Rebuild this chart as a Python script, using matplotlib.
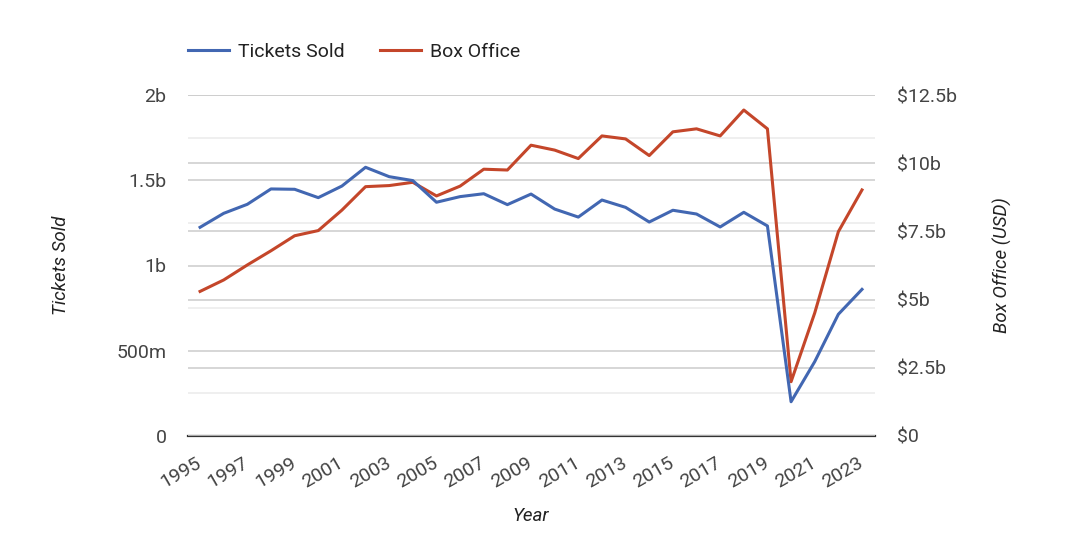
import matplotlib
matplotlib.use("Agg")
import matplotlib.pyplot as plt
import numpy as np

# Data
years = list(range(1995, 2024))
tickets_sold = [1.224, 1.306, 1.359, 1.449, 1.447, 1.398, 1.466, 1.576, 1.521, 1.498,
                1.371, 1.404, 1.421, 1.357, 1.419, 1.331, 1.284, 1.384, 1.341, 1.255,
                1.324, 1.302, 1.226, 1.312, 1.232, 0.201, 0.436, 0.714, 0.860]  # billions
box_office = [5.30, 5.72, 6.27, 6.79, 7.34, 7.53, 8.28, 9.14, 9.18, 9.30,
              8.80, 9.16, 9.78, 9.75, 10.66, 10.48, 10.17, 11.00, 10.89, 10.28,
              11.15, 11.26, 11.00, 11.95, 11.26, 1.99, 4.51, 7.49, 9.02]  # billions USD

left_ticks = [0, 0.5, 1, 1.5, 2]
left_labels = ["0", "500m", "1b", "1.5b", "2b"]
left_minor = [0.25, 0.75, 1.25, 1.75]
right_ticks = [0, 2.5, 5, 7.5, 10, 12.5]
right_labels = ["$0", "$2.5b", "$5b", "$7.5b", "$10b", "$12.5b"]
year_ticks = list(range(1995, 2024, 2))

BLUE = "#4267b2"
RED = "#c4462a"
TXT = "#444444"

plt.rcParams["font.family"] = ["Roboto", "DejaVu Sans"]

fig = plt.figure(figsize=(10.79, 5.35), dpi=100)
rect = [188 / 1079, 1 - 436 / 535, 687 / 1079, 341 / 535]

# left axis: grid only
ax = fig.add_axes(rect)
ax.set_xlim(1994.49, 2023.55)
ax.set_ylim(0, 2)
ax.set_yticks(left_ticks, left_labels)
ax.set_yticks(left_minor, minor=True)
ax.grid(axis="y", which="major", color="#cccccc", linewidth=1.1)
ax.grid(axis="y", which="minor", color="#ebebeb", linewidth=1.1)
ax.tick_params(axis="y", which="both", length=0, pad=15.5, labelsize=14, labelcolor=TXT)
ax.set_xticks(year_ticks)
ax.tick_params(axis="x", length=0, pad=18.5, labelsize=14, labelcolor=TXT)
for lab in ax.get_xticklabels():
    lab.set_rotation(30)
    lab.set_ha("right")
    lab.set_va("center")
    lab.set_rotation_mode("anchor")
for s in ["top", "left", "right"]:
    ax.spines[s].set_visible(False)
ax.spines["bottom"].set_color("#333333")
ax.spines["bottom"].set_linewidth(1.6)
ax.spines["bottom"].set_zorder(5)
ax.set_xlabel("Year", fontsize=13.5, style="italic", color="#222222")
ax.xaxis.set_label_coords(0.499, -0.208)
ax.set_ylabel("Tickets Sold", fontsize=13.5, style="italic", color="#222222", va="center")
ax.yaxis.set_label_coords(-0.185, 0.5)

# right axis: grid + box office line
ax2 = ax.twinx()
ax2.set_ylim(0, 12.5)
ax2.set_yticks(right_ticks, right_labels)
ax2.grid(axis="y", color="#cccccc", linewidth=1.1)
ax2.tick_params(axis="y", length=0, pad=15.5, labelsize=14, labelcolor=TXT)
for s in ax2.spines.values():
    s.set_visible(False)
ax2.set_ylabel("Box Office (USD)", fontsize=13.5, style="italic", color="#222222", va="center")
ax2.yaxis.set_label_coords(1.185, 0.5)
l2, = ax2.plot(years, box_office, color=RED, linewidth=2.2, label="Box Office",
               solid_joinstyle="round")

# third axis on top for tickets line (left scale)
ax3 = ax.twinx()
ax3.set_ylim(0, 2)
ax3.set_yticks([])
for s in ax3.spines.values():
    s.set_visible(False)
l1, = ax3.plot(years, tickets_sold, color=BLUE, linewidth=2.2, label="Tickets Sold",
               solid_joinstyle="round")

fig.legend(handles=[l1, l2], loc="center left", bbox_to_anchor=(178 / 1079, 1 - 52 / 535),
           ncol=2, frameon=False, fontsize=14, handlelength=2.1, handletextpad=0.5,
           columnspacing=1.8, borderpad=0, labelcolor="#222222")

fig.savefig("out.png", dpi=100)
